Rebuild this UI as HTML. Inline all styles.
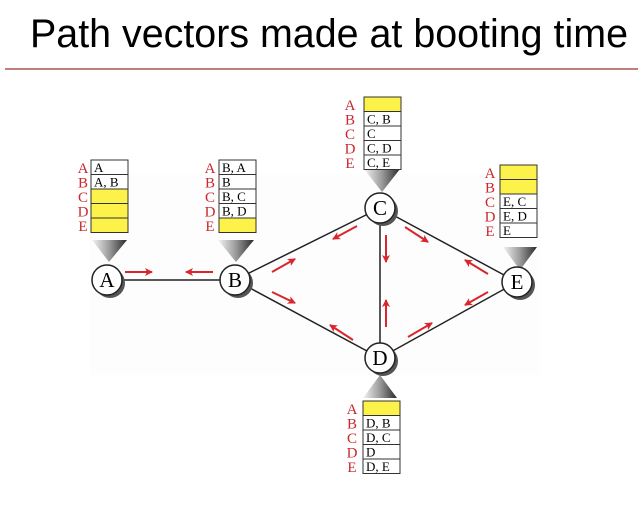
<!DOCTYPE html>
<html><head><meta charset="utf-8"><style>
html,body{margin:0;padding:0;background:#fff;}
svg{display:block;}
</style></head><body>
<svg width="644" height="511" viewBox="0 0 644 511" xmlns="http://www.w3.org/2000/svg">
<defs>
<linearGradient id="tg" x1="0" y1="0" x2="1" y2="0">
<stop offset="0" stop-color="#f4f4f4"/><stop offset="0.5" stop-color="#9a9a9a"/><stop offset="1" stop-color="#2a2a2a"/>
</linearGradient>
<marker id="ah" markerWidth="8" markerHeight="8" refX="7" refY="4" orient="auto" markerUnits="userSpaceOnUse">
<path d="M0,0 L8,4 L0,8 L2,4 Z" fill="#d8262c"/>
</marker>
</defs>
<text x="30" y="47" font-family="Liberation Sans, sans-serif" font-size="40" textLength="598" lengthAdjust="spacingAndGlyphs" fill="#000">Path vectors made at booting time</text>
<line x1="5" y1="69" x2="638" y2="69" stroke="#993333" stroke-width="1.2"/>
<rect x="90" y="175" width="450" height="200" fill="#fdfdfd"/>

<g stroke="#222" stroke-width="1.5">
<line x1="107" y1="280" x2="235" y2="280"/>
<line x1="235" y1="280" x2="380" y2="208"/>
<line x1="235" y1="280" x2="380" y2="358"/>
<line x1="380" y1="208" x2="380" y2="358"/>
<line x1="380" y1="208" x2="517" y2="282"/>
<line x1="380" y1="358" x2="517" y2="282"/>
</g>

<g stroke="#d8262c" stroke-width="2" marker-end="url(#ah)">
<line x1="125" y1="272" x2="152" y2="272"/>
<line x1="213" y1="272" x2="186" y2="272"/>
<line x1="272" y1="272" x2="295" y2="259"/>
<line x1="272" y1="292" x2="295" y2="303"/>
<line x1="357" y1="226" x2="333" y2="239"/>
<line x1="386" y1="235" x2="386" y2="262"/>
<line x1="405" y1="227" x2="428" y2="242"/>
<line x1="488" y1="274" x2="465" y2="260"/>
<line x1="488" y1="292" x2="465" y2="305"/>
<line x1="386" y1="327" x2="386" y2="300"/>
<line x1="408" y1="337" x2="432" y2="323"/>
<line x1="353" y1="340" x2="330" y2="325"/>
</g>

<polygon points="92,240 127,240 109,262" fill="url(#tg)"/>
<polygon points="218,240 254,240 236,262" fill="url(#tg)"/>
<polygon points="364,169 400,169 382,192" fill="url(#tg)"/>
<polygon points="503,247 537,247 520,270" fill="url(#tg)"/>
<polygon points="363,398 397,398 380,375" fill="url(#tg)"/>

<g font-family="Liberation Serif, serif" font-size="21" text-anchor="middle">
<g><circle cx="110" cy="283" r="15" fill="#555"/><circle cx="107" cy="280" r="15" fill="#fff" stroke="#222" stroke-width="1.5"/><text x="107" y="287">A</text></g>
<g><circle cx="238" cy="283" r="15" fill="#555"/><circle cx="235" cy="280" r="15" fill="#fff" stroke="#222" stroke-width="1.5"/><text x="235" y="287">B</text></g>
<g><circle cx="383" cy="211" r="15" fill="#555"/><circle cx="380" cy="208" r="15" fill="#fff" stroke="#222" stroke-width="1.5"/><text x="380" y="215">C</text></g>
<g><circle cx="383" cy="361" r="15" fill="#555"/><circle cx="380" cy="358" r="15" fill="#fff" stroke="#222" stroke-width="1.5"/><text x="380" y="365">D</text></g>
<g><circle cx="520" cy="285" r="15" fill="#555"/><circle cx="517" cy="282" r="15" fill="#fff" stroke="#222" stroke-width="1.5"/><text x="517" y="289">E</text></g>
</g>

<g font-family="Liberation Serif, serif" font-size="13">
<g transform="translate(91,160)">
<g fill="#c8282e" text-anchor="middle" font-size="15"><text x="-8" y="13">A</text><text x="-8" y="27.5">B</text><text x="-8" y="42">C</text><text x="-8" y="56.5">D</text><text x="-8" y="71">E</text></g>
<rect x="0" y="0" width="37" height="14.5" fill="#fff" stroke="#333"/><text x="3" y="12">A</text>
<rect x="0" y="14.5" width="37" height="14.5" fill="#fff" stroke="#333"/><text x="3" y="26.5">A, B</text>
<rect x="0" y="29" width="37" height="14.5" fill="#fcf24a" stroke="#333"/>
<rect x="0" y="43.5" width="37" height="14.5" fill="#fcf24a" stroke="#333"/>
<rect x="0" y="58" width="37" height="14.5" fill="#fcf24a" stroke="#333"/>
</g>
<g transform="translate(219,160)">
<g fill="#c8282e" text-anchor="middle" font-size="15"><text x="-9" y="13">A</text><text x="-9" y="27.5">B</text><text x="-9" y="42">C</text><text x="-9" y="56.5">D</text><text x="-9" y="71">E</text></g>
<rect x="0" y="0" width="37" height="14.5" fill="#fff" stroke="#333"/><text x="3" y="12">B, A</text>
<rect x="0" y="14.5" width="37" height="14.5" fill="#fff" stroke="#333"/><text x="3" y="26.5">B</text>
<rect x="0" y="29" width="37" height="14.5" fill="#fff" stroke="#333"/><text x="3" y="41">B, C</text>
<rect x="0" y="43.5" width="37" height="14.5" fill="#fff" stroke="#333"/><text x="3" y="55.5">B, D</text>
<rect x="0" y="58" width="37" height="14.5" fill="#fcf24a" stroke="#333"/>
</g>
<g transform="translate(364,97)">
<g fill="#c8282e" text-anchor="middle" font-size="15"><text x="-14" y="13">A</text><text x="-14" y="27.5">B</text><text x="-14" y="42">C</text><text x="-14" y="56.5">D</text><text x="-14" y="71">E</text></g>
<rect x="0" y="0" width="37" height="14.5" fill="#fcf24a" stroke="#333"/>
<rect x="0" y="14.5" width="37" height="14.5" fill="#fff" stroke="#333"/><text x="3" y="26.5">C, B</text>
<rect x="0" y="29" width="37" height="14.5" fill="#fff" stroke="#333"/><text x="3" y="41">C</text>
<rect x="0" y="43.5" width="37" height="14.5" fill="#fff" stroke="#333"/><text x="3" y="55.5">C, D</text>
<rect x="0" y="58" width="37" height="14.5" fill="#fff" stroke="#333"/><text x="3" y="70">C, E</text>
</g>
<g transform="translate(500,165)">
<g fill="#c8282e" text-anchor="middle" font-size="15"><text x="-10" y="13">A</text><text x="-10" y="27.5">B</text><text x="-10" y="42">C</text><text x="-10" y="56.5">D</text><text x="-10" y="71">E</text></g>
<rect x="0" y="0" width="37" height="14.5" fill="#fcf24a" stroke="#333"/>
<rect x="0" y="14.5" width="37" height="14.5" fill="#fcf24a" stroke="#333"/>
<rect x="0" y="29" width="37" height="14.5" fill="#fff" stroke="#333"/><text x="3" y="41">E, C</text>
<rect x="0" y="43.5" width="37" height="14.5" fill="#fff" stroke="#333"/><text x="3" y="55.5">E, D</text>
<rect x="0" y="58" width="37" height="14.5" fill="#fff" stroke="#333"/><text x="3" y="70">E</text>
</g>
<g transform="translate(363,401)">
<g fill="#c8282e" text-anchor="middle" font-size="15"><text x="-11" y="13">A</text><text x="-11" y="27.5">B</text><text x="-11" y="42">C</text><text x="-11" y="56.5">D</text><text x="-11" y="71">E</text></g>
<rect x="0" y="0" width="37" height="14.5" fill="#fcf24a" stroke="#333"/>
<rect x="0" y="14.5" width="37" height="14.5" fill="#fff" stroke="#333"/><text x="3" y="26.5">D, B</text>
<rect x="0" y="29" width="37" height="14.5" fill="#fff" stroke="#333"/><text x="3" y="41">D, C</text>
<rect x="0" y="43.5" width="37" height="14.5" fill="#fff" stroke="#333"/><text x="3" y="55.5">D</text>
<rect x="0" y="58" width="37" height="14.5" fill="#fff" stroke="#333"/><text x="3" y="70">D, E</text>
</g>
</g>
</svg>
</body></html>
